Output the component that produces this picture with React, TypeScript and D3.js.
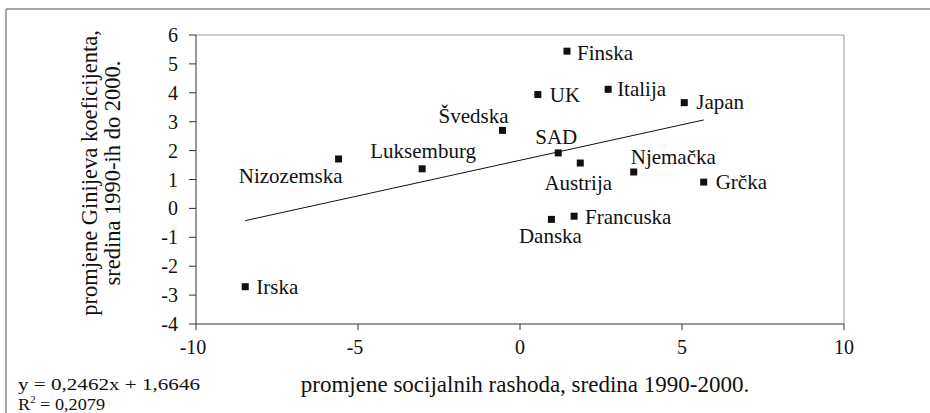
import * as d3 from 'd3';

// countries with change in social spending (x) and change in Gini coefficient (y)
const countries = ['Finska', 'UK', 'Italija', 'Japan', 'Švedska', 'SAD', 'Austrija', 'Njemačka', 'Grčka', 'Francuska', 'Danska', 'Nizozemska', 'Luksemburg', 'Irska'];
const spendingChange = [1.45, 0.55, 2.72, 5.07, -0.54, 1.18, 1.86, 3.51, 5.67, 1.67, 0.97, -5.6, -3.02, -8.48];
const giniChange = [5.44, 3.94, 4.12, 3.66, 2.7, 1.92, 1.57, 1.26, 0.91, -0.27, -0.38, 1.71, 1.37, -2.71];

const xTicks = [-10, -5, 0, 5, 10];
const yTicks = [6, 5, 4, 3, 2, 1, 0, -1, -2, -3, -4];

const slope = 0.2462;
const intercept = 1.6646;
const equationText = 'y = 0,2462x + 1,6646';
const r2Value = '0,2079';

const xTitle = 'promjene socijalnih rashoda, sredina 1990-2000.';
const yTitle = ['promjene Ginijeva koeficijenta,', 'sredina 1990-ih do 2000.'];

// where each label sits relative to its marker
const labelPos: Record<string, [number, number, string]> = {
  Finska: [10, 1, 'start'],
  UK: [12, 0, 'start'],
  Italija: [9, -1, 'start'],
  Japan: [12, -1, 'start'],
  Grčka: [12, 0, 'start'],
  Francuska: [11, 0, 'start'],
  Irska: [11, 0, 'start'],
  Švedska: [-29, -15, 'middle'],
  SAD: [-2, -16, 'middle'],
  Luksemburg: [1, -18, 'middle'],
  Nizozemska: [4, 17, 'end'],
  Austrija: [-2, 20, 'middle'],
  Njemačka: [-3, -15, 'start'],
  Danska: [-1, 16, 'middle'],
};

const font = "'Times New Roman', 'Liberation Serif', serif";

export default function App() {
  const width = 930;
  const height = 413;
  const plot = { left: 196, right: 844, top: 35, bottom: 324 };

  const x = d3.scaleLinear().domain([-10, 10]).range([plot.left, plot.right]);
  const y = d3.scaleLinear().domain([-4, 6]).range([plot.bottom, plot.top]);

  const xMin = d3.min(spendingChange) as number;
  const xMax = d3.max(spendingChange) as number;
  const trend = d3.line<number>()
    .x(d => x(d))
    .y(d => y(slope * d + intercept));

  const txt = { fontFamily: font, fill: '#111' };

  return (
    <svg width={width} height={height} style={{ display: 'block', position: 'absolute', left: 0, top: 0, background: '#fff' }}>
      {/* outer frame */}
      <line x1={6} x2={width} y1={9} y2={9} stroke="#8a8a8a" strokeWidth={1.5} />
      <line x1={6} x2={6} y1={9} y2={height} stroke="#8a8a8a" strokeWidth={1.5} />

      {/* plot area border */}
      <line x1={plot.left} x2={plot.right} y1={plot.top} y2={plot.top} stroke="#999" />
      <line x1={plot.right} x2={plot.right} y1={plot.top} y2={plot.bottom} stroke="#999" />

      {/* y axis */}
      <line x1={plot.left} x2={plot.left} y1={plot.top} y2={plot.bottom} stroke="#333" />
      {yTicks.map(t => (
        <g key={t}>
          <line x1={plot.left - 7} x2={plot.left} y1={y(t)} y2={y(t)} stroke="#333" />
          <text x={plot.left - 18} y={y(t)} dy="0.35em" textAnchor="end" fontSize={20} style={txt}>{t}</text>
        </g>
      ))}

      {/* x axis */}
      <line x1={plot.left} x2={plot.right} y1={plot.bottom} y2={plot.bottom} stroke="#333" />
      {xTicks.map(t => (
        <g key={t}>
          <line x1={x(t)} x2={x(t)} y1={plot.bottom} y2={plot.bottom + 6} stroke="#333" />
          <text x={x(t) + (t < 0 ? -3 : 0)} y={plot.bottom + 30} textAnchor="middle" fontSize={20} style={txt}>{t}</text>
        </g>
      ))}

      {/* trend line */}
      <path d={trend([xMin, xMax]) || ''} fill="none" stroke="#111" strokeWidth={1} />

      {/* points */}
      {countries.map((c, i) => {
        const px = x(spendingChange[i]);
        const py = y(giniChange[i]);
        const [dx, dy, anchor] = labelPos[c];
        return (
          <g key={c}>
            <rect x={px - 3.5} y={py - 3.5} width={7} height={7} fill="#111" />
            <text x={px + dx} y={py + dy} dy="0.35em" textAnchor={anchor as any} fontSize={21} style={txt}>{c}</text>
          </g>
        );
      })}

      {/* axis titles */}
      <text x={525} y={392} textAnchor="middle" fontSize={23} style={txt}>{xTitle}</text>
      {yTitle.map((t, i) => (
        <text key={t} transform={`translate(${97 + i * 23},173) rotate(-90)`} textAnchor="middle" fontSize={22.5} style={txt}>{t}</text>
      ))}

      {/* regression equation */}
      <text x={18} y={390} fontSize={17} textLength={182} lengthAdjust="spacingAndGlyphs" style={txt}>{equationText}</text>
      <text x={18} y={409.5} fontSize={17} textLength={87} lengthAdjust="spacingAndGlyphs" style={txt}>R<tspan fontSize={10} dy={-7}>2</tspan><tspan dy={7}> = {r2Value}</tspan></text>
    </svg>
  );
}
